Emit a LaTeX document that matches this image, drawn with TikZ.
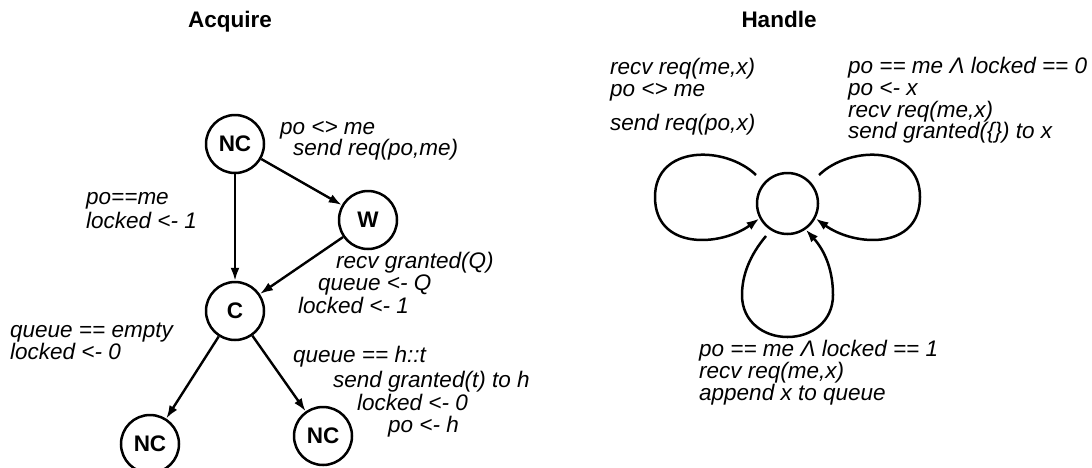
\documentclass[tikz,border=0pt]{standalone}
\usepackage{fontspec}
\setmainfont{Liberation Sans}
\usetikzlibrary{arrows.meta}
\begin{document}
\begin{tikzpicture}[x=1pt,y=-1pt,
  state/.style={circle,draw,line width=2.5pt,minimum size=58pt,inner sep=0pt,font=\fontsize{22.5}{22.5}\selectfont\bfseries},
  lbl/.style={anchor=base west,inner sep=0pt,font=\fontsize{22.5}{22.5}\selectfont\itshape},
  ttl/.style={anchor=base,inner sep=0pt,font=\fontsize{22.5}{22.5}\selectfont\bfseries},
  arr/.style={line width=2.4pt,-{Latex[length=13pt,width=9pt]}},
  loopline/.style={line width=2.5pt,-{Latex[length=13pt,width=9pt]}}
]
\fill[white] (0,0) rectangle (1092,467);
\useasboundingbox (0,0) rectangle (1092,467);

% ---------- Acquire ----------
\node[ttl] (tacq) at (230,27) {Acquire};
\node[state] (nc1) at (235,144) {NC};
\node[state] (w) at (368,220) {W};
\node[state] (c) at (235,311) {C};
\node[state] (nc2) at (150,444) {NC};
\node[state] (nc3) at (323,436) {NC};

\draw[arr] (nc1) -- (w);
\draw[arr] (nc1) -- (c);
\draw[arr] (w) -- (c);
\draw[arr] (c) -- (nc2);
\draw[arr] (c) -- (nc3);

\node[lbl] (a1) at (280,134) {po <> me};
\node[lbl] (a2) at (293,155) {send req(po,me)};
\node[lbl] (a3) at (86,204) {po==me};
\node[lbl] (a4) at (86,228) {locked <- 1};
\node[lbl] (a5) at (336,268) {recv granted(Q)};
\node[lbl] (a6) at (318,290) {queue <- Q};
\node[lbl] (a7) at (298,313) {locked <- 1};
\node[lbl] (a8) at (10,337) {queue == empty};
\node[lbl] (a9) at (10,359) {locked <- 0};
\node[lbl] (a10) at (293,362) {queue == h::t};
\node[lbl] (a11) at (333,387) {send granted(t) to h};
\node[lbl] (a12) at (357,410) {locked <- 0};
\node[lbl] (a13) at (388,432) {po <- h};

% ---------- Handle ----------
\node[ttl] (thdl) at (779,27) {Handle};
\node[state,minimum size=61pt] (h) at (787.5,203.5) {};

\coordinate (ls) at (756,175);
\coordinate (rs) at (819,175);
\coordinate (bs) at (766,236);
\draw[loopline] (ls) .. controls (725,145) and (655,145) .. (655,197)
  .. controls (655,250) and (720,247) .. (h.208);
\draw[loopline] (rs) .. controls (850,145) and (920,145) .. (920,197)
  .. controls (920,250) and (855,247) .. (h.-28);
\draw[loopline] (bs) .. controls (750,255) and (742,275) .. (742,295)
  .. controls (742,322) and (764,337) .. (787.5,337)
  .. controls (811,337) and (833,322) .. (833,295)
  .. controls (833,272) and (826,252) .. (h.-55);

\node[lbl] (h1) at (610,74) {recv req(me,x)};
\node[lbl] (h2) at (610,96) {po <> me};
\node[lbl] (h3) at (610,130) {send req(po,x)};
\node[lbl] (h4) at (848,73) {po == me Λ locked == 0};
\node[lbl] (h5) at (848,95) {po <- x};
\node[lbl] (h6) at (848,117) {recv req(me,x)};
\node[lbl] (h7) at (848,138) {send granted(\{\}) to x};
\node[lbl] (h8) at (699,356) {po == me Λ locked == 1};
\node[lbl] (h9) at (699,378) {recv req(me,x)};
\node[lbl] (h10) at (699,400) {append x to queue};
\end{tikzpicture}
\end{document}
